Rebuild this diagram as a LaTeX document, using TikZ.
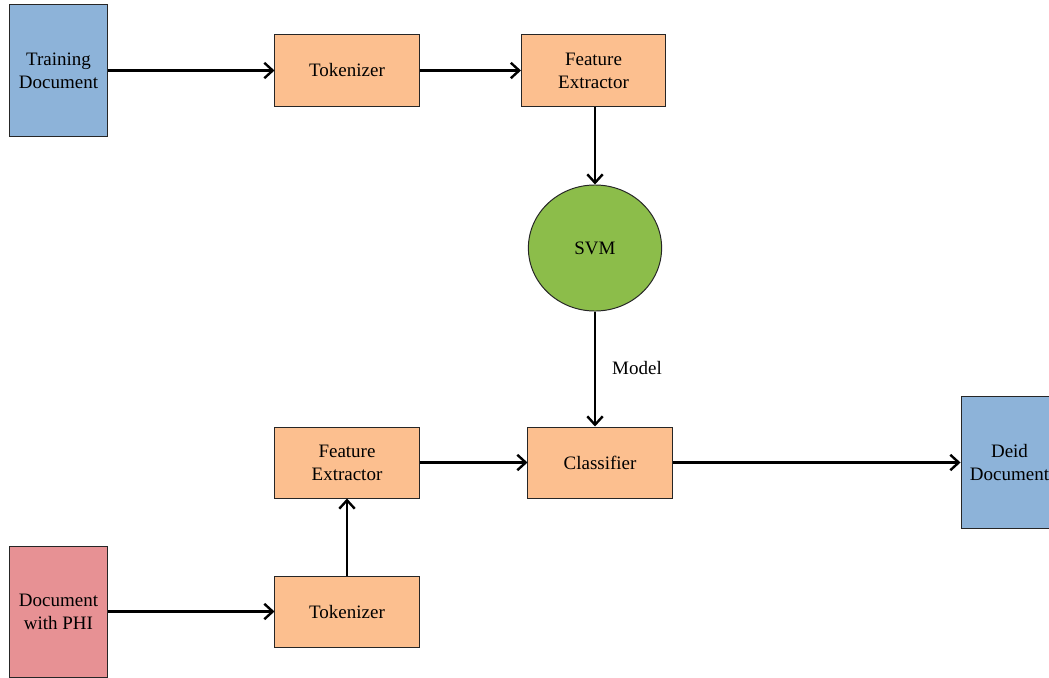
\documentclass[tikz,border=0pt]{standalone}
\usepackage{fontspec}
\setmainfont{Liberation Serif}
\usetikzlibrary{arrows.meta,shapes.geometric}
\definecolor{docblue}{RGB}{141,179,217}
\definecolor{procorange}{RGB}{252,191,143}
\definecolor{svmgreen}{RGB}{140,189,74}
\definecolor{phipink}{RGB}{231,145,148}
\begin{document}
\begin{tikzpicture}[x=0.025cm,y=-0.025cm,
    every node/.style={font=\fontsize{13.5}{16.5}\selectfont},
    doc/.style={rectangle,draw=black!85,line width=0.7pt,minimum width=2.425cm,minimum height=3.275cm,align=center,inner sep=0pt},
    proc/.style={rectangle,draw=black!85,line width=0.7pt,fill=procorange,minimum width=3.6cm,minimum height=1.775cm,align=center,inner sep=0pt},
    flow/.style={line width=2pt,-{Straight Barb[length=6pt,width=11pt,line width=1.7pt]}}]
        \useasboundingbox (0,0) rectangle (1049,677);
        \clip (0,0) rectangle (1049,677);
        \node at (58.5,70.5) [doc,fill=docblue] (train) {Training\\Document};
        \node at (347,70.5) [proc] (tok1) {Tokenizer};
        \node at (593.5,70.5) [proc] (fe1) {Feature\\Extractor};
        \node at (595,248) [ellipse,draw=black!85,line width=0.7pt,fill=svmgreen,minimum width=3.33cm,minimum height=3.15cm] (svm) {SVM};
        \node at (600,462.5) [proc] (cls) {Classifier};
        \node at (347,462.5) [proc] (fe2) {Feature\\Extractor};
        \node at (347,611.5) [proc] (tok2) {Tokenizer};
        \node at (58.5,611.5) [doc,fill=phipink] (phi) {Document\\with PHI};
        \node at (1009.5,462.5) [doc,fill=docblue] (deid) {Deid\\Document};
        \node at (637,368) (model) {Model};
        \draw[flow] (train) -- (tok1);
        \draw[flow] (tok1) -- (fe1);
        \draw[flow] (fe1.south -| svm.north) -- (svm.north);
        \draw[flow] (svm.south) -- (svm.south |- cls.north);
        \draw[flow] (fe2) -- (cls);
        \draw[flow] (cls) -- (deid);
        \draw[flow] (phi) -- (tok2);
        \draw[flow] (tok2) -- (fe2);
      \end{tikzpicture}
\end{document}
